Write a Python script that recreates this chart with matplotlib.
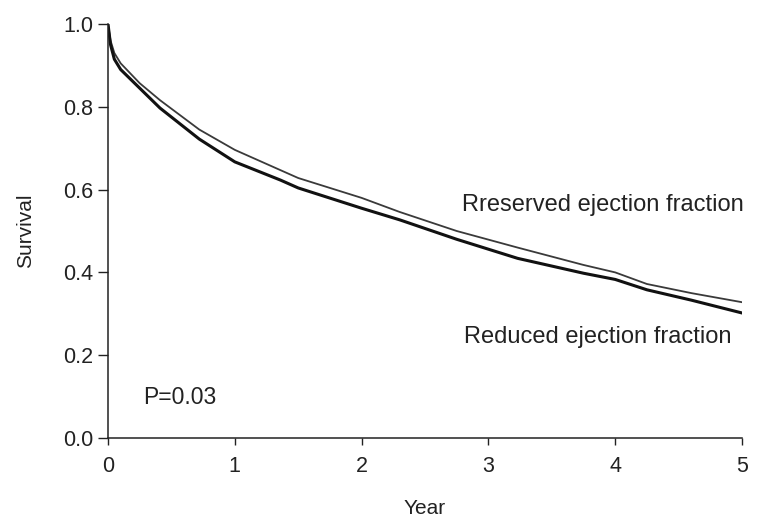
import matplotlib.pyplot as plt

plt.rcParams['font.family'] = ['Liberation Sans', 'DejaVu Sans']

# Kaplan-Meier curves
years = [0, 0.02, 0.05, 0.1, 0.25, 0.41, 0.72, 1.0, 1.36, 1.5, 2.0, 2.3,
         2.75, 3.23, 3.75, 4.0, 4.25, 4.6, 5.0]
preserved = [1.0, 0.96, 0.93, 0.905, 0.857, 0.816, 0.745, 0.696, 0.647,
             0.628, 0.58, 0.546, 0.50, 0.46, 0.418, 0.40, 0.372, 0.35, 0.328]
reduced = [1.0, 0.95, 0.915, 0.89, 0.845, 0.797, 0.722, 0.667, 0.623,
           0.604, 0.555, 0.527, 0.48, 0.434, 0.398, 0.383, 0.358, 0.333, 0.302]

xticks = [0, 1, 2, 3, 4, 5]
yticks = [0.0, 0.2, 0.4, 0.6, 0.8, 1.0]

fig = plt.figure(figsize=(7.59, 5.18), dpi=100)
ax = fig.add_axes([108 / 759, 80 / 518, 634 / 759, 414 / 518])

ax.plot(years, preserved, color='#3a3a3a', lw=1.3)
ax.plot(years, reduced, color='#111111', lw=2.2)

ax.set_xlim(0, 5)
ax.set_ylim(0, 1.0)
ax.set_xticks(xticks)
ax.set_yticks(yticks)
ax.set_xticklabels([str(t) for t in xticks])
ax.set_yticklabels([f'{t:.1f}' for t in yticks])

for side in ['top', 'right']:
    ax.spines[side].set_visible(False)
for side in ['left', 'bottom']:
    ax.spines[side].set_color('#222222')
    ax.spines[side].set_linewidth(1.1)
ax.tick_params(axis='both', direction='out', width=1, colors='#222222',
               labelsize=15.5)
ax.tick_params(axis='y', length=7.5, pad=3)
ax.tick_params(axis='x', length=5, pad=8)

ax.set_xlabel('Year', fontsize=15, color='#222222', labelpad=16)
ax.set_ylabel('Survival', fontsize=15, color='#222222', labelpad=20)

ax.text(2.79, 0.563, 'Rreserved ejection fraction', fontsize=17, color='#222222',
        ha='left', va='center')
ax.text(2.81, 0.244, 'Reduced ejection fraction', fontsize=17, color='#222222',
        ha='left', va='center')
ax.text(0.28, 0.097, 'P=0.03', fontsize=16.5, color='#222222', ha='left', va='center')

fig.savefig('out.png', dpi=100)
